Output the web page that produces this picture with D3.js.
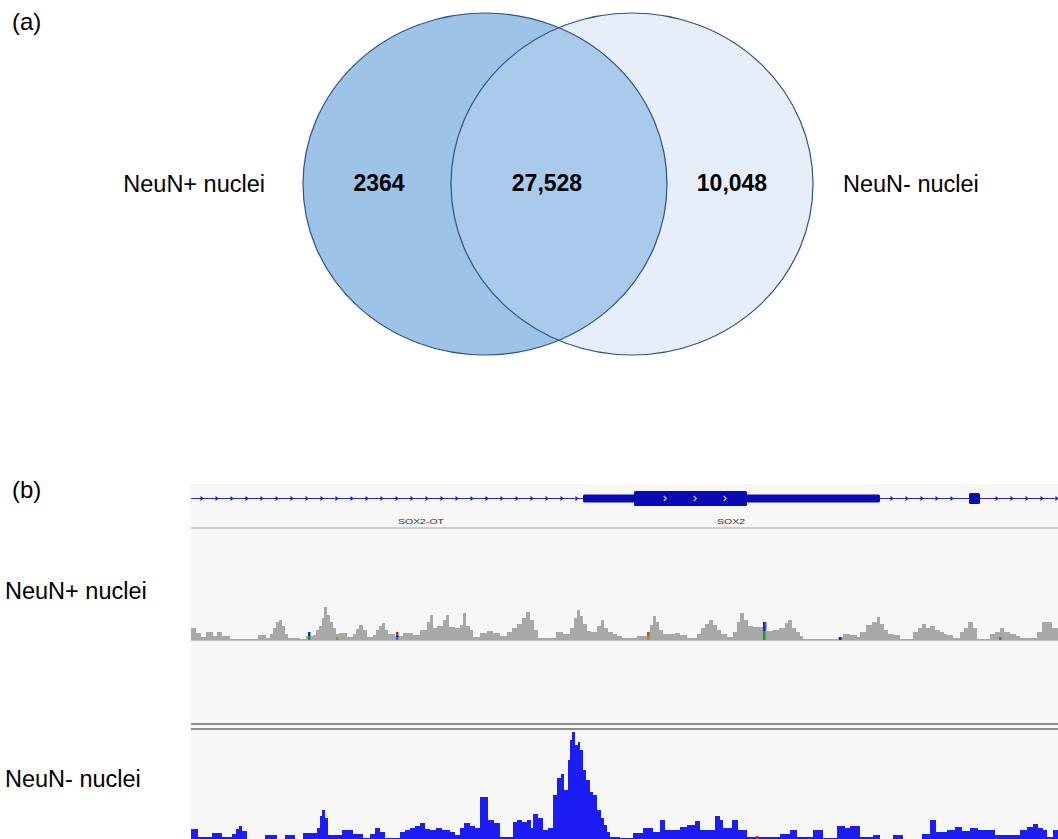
<!DOCTYPE html>
<html>
<head>
<meta charset="utf-8">
<script src="https://cdn.jsdelivr.net/npm/d3@7"></script>
<style>
  body { margin: 0; background: #fff; }
  svg text { font-family: "Liberation Sans", Arial, sans-serif; }
</style>
</head>
<body>
<div id="chart"></div>
<script>
//// DATA
// (a) venn
const vennSets = ['NeuN+ nuclei', 'NeuN- nuclei'];
const vennCounts = [2364, 27528, 10048]; // only NeuN+, both, only NeuN-

// (b) tracks, positions are bin offsets in the shown window (0 - 867)
const windowBins = [0, 867];
const geneExonsUTR = [[392, 689], [778, 789]];
const geneExonsCDS = [[443, 556]];
const geneChevrons = [474, 504, 534];
const geneNames = ['SOX2-OT', 'SOX2'];
const geneNamePos = [230, 540];
const geneNameWidth = [46, 28];

// [bin start, coverage]
const neunPosCoverage = [[0,12],[5,7],[10,3],[15,8],[22,4],[26,8],[31,4],[39,1],[67,5],[75,2],[79,6],[82,12],[85,18],[88,20],[91,14],[94,6],[97,2],[109,1],[115,4],[122,5],[125,10],[128,14],[131,22],[133,33],[136,25],[139,18],[142,12],[145,6],[148,7],[156,3],[162,6],[165,11],[168,15],[172,10],[176,3],[182,5],[185,10],[188,14],[191,17],[194,10],[197,6],[204,4],[212,7],[222,5],[229,10],[236,18],[239,25],[242,12],[246,14],[252,20],[255,25],[258,13],[264,12],[269,15],[272,27],[275,14],[279,10],[282,3],[289,7],[296,9],[302,7],[309,4],[316,8],[321,12],[326,16],[331,22],[335,28],[339,20],[343,10],[347,2],[365,8],[372,6],[379,12],[383,22],[386,30],[389,24],[392,16],[396,9],[400,8],[406,14],[410,20],[413,12],[417,8],[422,6],[426,4],[431,2],[446,4],[456,8],[459,15],[462,24],[465,18],[468,10],[472,6],[484,7],[489,5],[496,2],[506,6],[510,12],[514,16],[518,20],[522,15],[526,10],[530,6],[536,3],[542,8],[546,18],[549,27],[553,20],[557,14],[562,13],[572,18],[576,9],[582,10],[588,12],[594,17],[597,20],[601,12],[605,8],[609,4],[612,1],[647,3],[652,6],[659,5],[666,3],[669,8],[675,15],[681,18],[686,23],[689,16],[693,10],[697,6],[703,5],[709,1],[722,8],[727,12],[731,16],[735,12],[739,14],[744,10],[749,8],[753,6],[756,5],[762,2],[769,8],[773,12],[777,18],[782,12],[786,1],[799,6],[804,8],[809,12],[813,8],[819,6],[825,4],[829,2],[846,8],[851,18],[861,12],[867,0]];

const neunNegCoverage = [[0,11],[7,3],[21,7],[31,3],[41,6],[45,11],[48,14],[51,9],[56,1],[74,5],[86,1],[94,5],[104,1],[112,7],[126,12],[129,24],[131,30],[134,22],[137,5],[151,10],[162,6],[172,2],[179,6],[184,12],[189,8],[194,2],[209,8],[214,10],[219,12],[224,14],[229,17],[234,11],[239,10],[245,12],[251,10],[259,8],[264,5],[269,12],[273,17],[279,14],[284,12],[289,43],[297,20],[303,17],[309,3],[322,18],[326,20],[331,18],[336,20],[340,12],[342,26],[347,22],[352,10],[357,12],[362,45],[366,62],[370,66],[373,50],[377,80],[379,100],[381,108],[384,95],[387,98],[389,90],[392,70],[395,60],[399,48],[402,45],[406,30],[410,22],[413,15],[416,8],[419,3],[429,2],[442,7],[452,12],[462,8],[469,20],[474,10],[489,13],[496,15],[504,19],[509,10],[524,24],[529,20],[532,12],[541,20],[547,10],[556,3],[569,3],[589,6],[599,10],[606,3],[622,10],[632,2],[646,14],[654,12],[659,14],[669,3],[682,5],[689,1],[702,5],[712,1],[731,6],[739,20],[745,8],[756,10],[764,13],[771,9],[779,12],[787,10],[796,10],[804,5],[819,5],[829,10],[836,13],[842,16],[847,12],[852,10],[856,3],[862,10],[867,0]];

// mismatch bases in NeuN+ track: [bin, coverage, colors bottom -> top]
const neunPosMismatch = [[118, 8, ['#1aa31a', '#1a1aff']], [146, 3, ['#d2781e']], [206, 8, ['#1aa31a', '#1a1aff', '#d21e1e']], [457, 8, ['#d2781e', '#e03c3c']], [573, 18, ['#1aa31a', '#1a1aff']], [649, 3, ['#1a1aff']], [809, 3, ['#1aa31a']]];
const neunNegMismatch = [[566, 4, ['#d21e1e']]];

//// SETUP
const W = 1058, H = 839;
const svg = d3.select('#chart').append('svg').attr('width', W).attr('height', H);

//// (a) VENN
svg.append('text').attr('x', 12).attr('y', 30).attr('font-size', 24).text('(a)');

const ellL = {cx: 485, cy: 184, rx: 182, ry: 171};
const ellR = {cx: 632, cy: 184, rx: 181, ry: 171};

const defs = svg.append('defs');
defs.append('clipPath').attr('id', 'clipL')
    .append('ellipse').attr('cx', ellL.cx).attr('cy', ellL.cy).attr('rx', ellL.rx).attr('ry', ellL.ry);

function ell(g, e) {
  return g.append('ellipse').attr('cx', e.cx).attr('cy', e.cy).attr('rx', e.rx).attr('ry', e.ry);
}
ell(svg, ellR).attr('fill', '#e6eff9');
ell(svg, ellL).attr('fill', '#9dc3e6');
ell(svg, ellR).attr('fill', '#a9caeb').attr('clip-path', 'url(#clipL)');
ell(svg, ellL).attr('fill', 'none').attr('stroke', '#2f5189').attr('stroke-width', 1.2);
ell(svg, ellR).attr('fill', 'none').attr('stroke', '#2f5189').attr('stroke-width', 1.2);

const fmt = d3.format(',');
const countX = [379, 547, 732];
svg.selectAll('.venn-count')
   .data(vennCounts)
   .enter()
   .append('text')
   .attr('class', 'venn-count')
   .attr('x', (d, i) => countX[i])
   .attr('y', 191)
   .attr('text-anchor', 'middle')
   .attr('font-size', 23)
   .attr('font-weight', 'bold')
   .text(d => d < 10000 ? String(d) : fmt(d));

svg.append('text').attr('x', 265).attr('y', 192).attr('text-anchor', 'end')
   .attr('font-size', 23.5).text(vennSets[0]);
svg.append('text').attr('x', 843).attr('y', 192)
   .attr('font-size', 23.5).text(vennSets[1]);

//// (b) TRACKS
svg.append('text').attr('x', 12).attr('y', 498).attr('font-size', 24).text('(b)');

const x = d3.scaleLinear().domain(windowBins).range([191, 1058]);
const yPos = d3.scaleLinear().domain([0, 110]).range([640, 530]);
const yNeg = d3.scaleLinear().domain([0, 110]).range([840, 730]);

// panel background
svg.append('rect').attr('x', x(0)).attr('y', 484).attr('width', x(867) - x(0)).attr('height', H - 484)
   .attr('fill', '#f7f7f7');

// gene track
const geneY = 498.5;
const geneColor = '#0a0ab4';
svg.append('line').attr('x1', x(0)).attr('x2', x(867)).attr('y1', geneY).attr('y2', geneY)
   .attr('stroke', '#2a2ad6').attr('stroke-width', 1.2);

// intron arrows (small filled marks like IGV)
const arrowBins = d3.range(11, 867, 15).filter(b => !geneExonsUTR.some(e => b > e[0] - 4 && b < e[1] + 4));
svg.selectAll('.intron-arrow')
   .data(arrowBins)
   .enter()
   .append('path')
   .attr('class', 'intron-arrow')
   .attr('d', d => 'M' + (x(d) - 1.5) + ',' + (geneY - 2.5) + 'L' + (x(d) + 1.8) + ',' + geneY + 'L' + (x(d) - 1.5) + ',' + (geneY + 2.5) + 'Z')
   .attr('fill', '#1c1cc8');

svg.selectAll('.utr')
   .data(geneExonsUTR)
   .enter()
   .append('rect')
   .attr('class', 'utr')
   .attr('x', d => x(d[0])).attr('width', d => x(d[1]) - x(d[0]))
   .attr('y', (d, i) => i == 0 ? geneY - 4 : geneY - 5.5)
   .attr('height', (d, i) => i == 0 ? 8 : 11)
   .attr('rx', 1.5)
   .attr('fill', geneColor);

svg.selectAll('.cds')
   .data(geneExonsCDS)
   .enter()
   .append('rect')
   .attr('class', 'cds')
   .attr('x', d => x(d[0])).attr('width', d => x(d[1]) - x(d[0]))
   .attr('y', geneY - 7.5).attr('height', 15)
   .attr('rx', 1.5)
   .attr('fill', geneColor);

svg.selectAll('.chevron')
   .data(geneChevrons)
   .enter()
   .append('path')
   .attr('class', 'chevron')
   .attr('d', d => 'M' + (x(d) - 1.2) + ',' + (geneY - 2.5) + 'L' + (x(d) + 1.3) + ',' + geneY + 'L' + (x(d) - 1.2) + ',' + (geneY + 2.5))
   .attr('fill', 'none').attr('stroke', '#c8c8f0').attr('stroke-width', 1.2);

svg.selectAll('.gene-name')
   .data(geneNames)
   .enter()
   .append('text')
   .attr('class', 'gene-name')
   .attr('x', (d, i) => x(geneNamePos[i]) - geneNameWidth[i] / 2)
   .attr('y', 524)
   .attr('font-size', 7.5)
   .attr('fill', '#333')
   .attr('textLength', (d, i) => geneNameWidth[i])
   .attr('lengthAdjust', 'spacingAndGlyphs')
   .text(d => d);

// separator under gene track
svg.append('line').attr('x1', x(0)).attr('x2', x(867)).attr('y1', 528).attr('y2', 528)
   .attr('stroke', '#d0d0d0').attr('stroke-width', 2);

// coverage tracks
function coverageArea(y) {
  return d3.area()
           .curve(d3.curveStepAfter)
           .x(d => x(d[0]))
           .y0(y(0))
           .y1(d => y(d[1]));
}
svg.append('path').datum(neunPosCoverage).attr('d', coverageArea(yPos)).attr('fill', '#a8a8a8');
svg.append('line').attr('x1', x(0)).attr('x2', x(867)).attr('y1', 640.5).attr('y2', 640.5)
   .attr('stroke', '#c4c4c4').attr('stroke-width', 1);
svg.append('path').datum(neunNegCoverage).attr('d', coverageArea(yNeg)).attr('fill', '#1c1cf5');

function drawMismatch(data, y) {
  data.forEach(function(m) {
    const step = m[1] / m[2].length;
    m[2].forEach(function(c, j) {
      svg.append('rect')
         .attr('x', x(m[0]) - 1).attr('width', 2.5)
         .attr('y', y(step * (j + 1))).attr('height', y(step * j) - y(step * (j + 1)))
         .attr('fill', c);
    });
  });
}
drawMismatch(neunPosMismatch, yPos);
drawMismatch(neunNegMismatch, yNeg);

// track divider (double line)
[724, 729].forEach(function(yy) {
  svg.append('line').attr('x1', x(0)).attr('x2', x(867)).attr('y1', yy).attr('y2', yy)
     .attr('stroke', '#6a6a6a').attr('stroke-width', 1.6);
});

// track names
svg.append('text').attr('x', 5).attr('y', 599).attr('font-size', 23.5).text(vennSets[0]);
svg.append('text').attr('x', 5).attr('y', 787).attr('font-size', 23.5).text(vennSets[1]);
</script>
</body>
</html>
